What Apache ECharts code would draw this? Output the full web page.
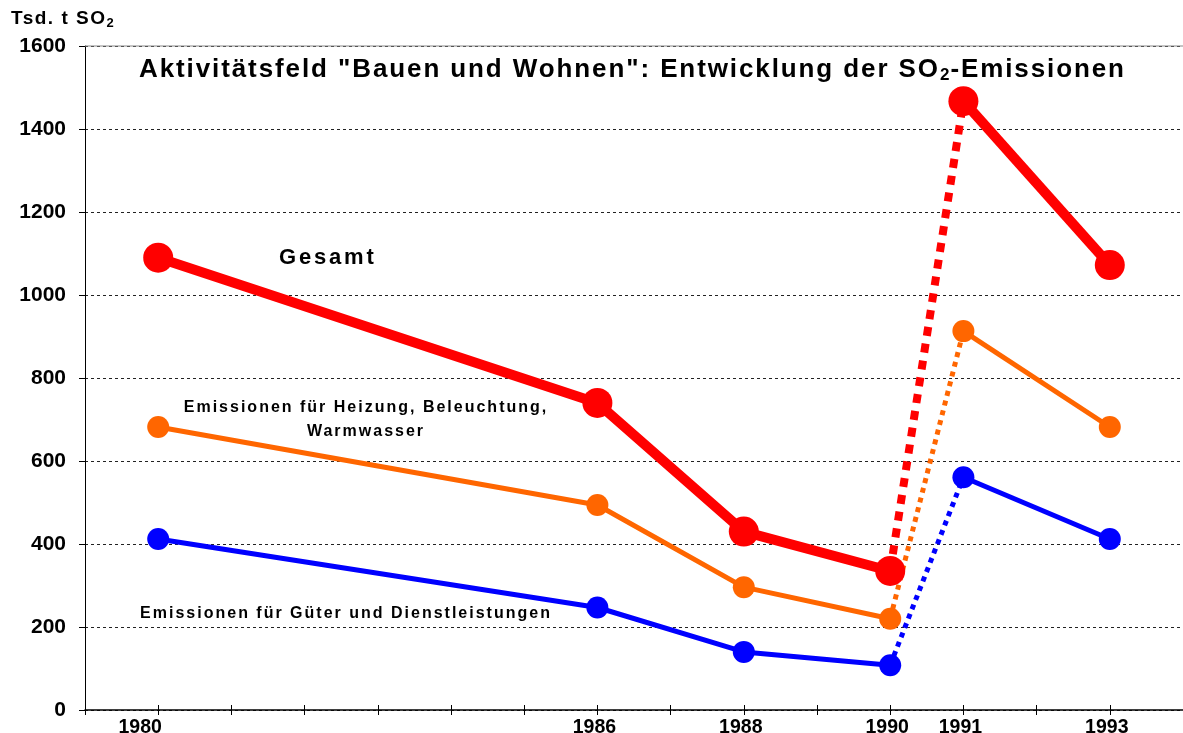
<!DOCTYPE html>
<html><head><meta charset="utf-8">
<script src="https://cdn.jsdelivr.net/npm/echarts@6/dist/echarts.min.js"></script>
<style>html,body{margin:0;padding:0;background:#fff;overflow:hidden}#c{width:1183px;height:733px}</style>
</head><body><div id="c"></div>
<script>
const years = [1980, 1986, 1988, 1990, 1991, 1993];
const labeledYears = [1980, 1986, 1988, 1990, 1991, 1993];
const gesamt = [1090, 740, 430, 335, 1467, 1072];
const heizung = [682, 494, 296, 220, 913, 682];
const gueter = [412, 247, 140, 108, 561, 412];
const yTicks = [0, 200, 400, 600, 800, 1000, 1200, 1400, 1600];

const FONT = '"Liberation Sans", Arial, sans-serif';
const RED = '#ff0000', ORANGE = '#ff6600', BLUE = '#0000ff';

// Reference text is rendered with extra tracking; emulate it per font size.
const TRACKING = {26: 1.9, 17: 1, 19: 1.5, 13: 0.8, 22: 2.8, 16: 2};
function trackFor(font) {
  const m = /(\d+(?:\.\d+)?)px/.exec(font || '');
  return m ? (TRACKING[+m[1]] || 0) : 0;
}
(function () {
  const P = CanvasRenderingContext2D.prototype;
  if (!('letterSpacing' in P)) return;
  const of = P.fillText, om = P.measureText;
  P.fillText = function (t, x, y, w) {
    this.letterSpacing = trackFor(this.font) + 'px';
    const r = w === undefined ? of.call(this, t, x, y) : of.call(this, t, x, y, w);
    this.letterSpacing = '0px';
    return r;
  };
  P.measureText = function (t) {
    this.letterSpacing = trackFor(this.font) + 'px';
    const r = om.call(this, t);
    this.letterSpacing = '0px';
    return r;
  };
})();

function pts(vals, from, to) {
  const out = [];
  for (let i = from; i <= to; i++) out.push([years[i], vals[i]]);
  return out;
}
function group(name, vals, color, w, sym, dash, z) {
  return [
    {name, type: 'line', data: pts(vals, 0, 3), symbol: 'circle', symbolSize: sym, z: z,
     lineStyle: {color, width: w}, itemStyle: {color}, silent: true, animation: false},
    {name, type: 'line', data: pts(vals, 4, 5), symbol: 'circle', symbolSize: sym, z: z,
     lineStyle: {color, width: w}, itemStyle: {color}, silent: true, animation: false},
    {name, type: 'line', data: pts(vals, 3, 4), symbol: 'none', z: z - 1,
     lineStyle: {color, width: dash.w, type: dash.pattern, cap: 'butt'}, silent: true, animation: false}
  ];
}

const chart = echarts.init(document.getElementById('c'));
chart.setOption({
  backgroundColor: '#fff',
  animation: false,
  title: {
    text: '{b|Aktivitätsfeld "Bauen und Wohnen": Entwicklung der SO}{s|2}{b|-Emissionen}',
    left: 134, top: 51,
    textStyle: {
      rich: {
        b: {fontFamily: FONT, fontWeight: 'bold', fontSize: 26, color: '#000'},
        s: {fontFamily: FONT, fontWeight: 'bold', fontSize: 17, color: '#000', padding: [10, 0, 0, 0]}
      }
    }
  },
  grid: {left: 85, right: 0, top: 46, bottom: 23, containLabel: false, outerBoundsMode: 'none'},
  xAxis: [{
    type: 'value', min: 1979, max: 1994, interval: 1,
    axisLine: {lineStyle: {color: '#000', width: 1.5}},
    axisTick: {show: true, inside: false, length: 5, lineStyle: {color: '#000'}},
    splitLine: {show: false},
    axisLabel: {
      fontFamily: FONT, fontWeight: 'bold', fontSize: 19.5, color: '#000', margin: 8,
      showMinLabel: true, showMaxLabel: false,
      formatter: v => !labeledYears.includes(v) ? '' : (v === 1980 ? '{a|' + v + '}' : '{n|' + v + '}'),
      rich: {
        a: {fontFamily: FONT, fontWeight: 'bold', fontSize: 19.5, color: '#000', padding: [0, 36, 0, 0]},
        n: {fontFamily: FONT, fontWeight: 'bold', fontSize: 19.5, color: '#000', padding: [0, 6, 0, 0]}
      }
    }
  }, {
    type: 'value', min: 1979, max: 1994, interval: 1, position: 'bottom',
    axisLine: {show: false},
    axisTick: {show: true, inside: true, length: 5, lineStyle: {color: '#000'}},
    axisLabel: {show: false}, splitLine: {show: false}
  }],
  yAxis: {
    type: 'value', min: 0, max: 1600, interval: 200,
    axisLine: {show: true, lineStyle: {color: '#000', width: 1}},
    axisTick: {show: true, length: 6, lineStyle: {color: '#000'}},
    axisLabel: {fontFamily: FONT, fontWeight: 'bold', fontSize: 21, color: '#000', margin: 19,
      formatter: v => yTicks.includes(v) ? String(v) : ''},
    splitLine: {show: true, lineStyle: {color: '#222', type: [3, 3], width: 1}}
  },
  graphic: [
    {type: 'text', left: 11, top: 9, style: {
      text: '{b|Tsd. t SO}{s|2}', rich: {
        b: {fontFamily: FONT, fontWeight: 'bold', fontSize: 19, fill: '#000'},
        s: {fontFamily: FONT, fontWeight: 'bold', fontSize: 13, fill: '#000', padding: [8, 0, 0, 0]}
      }}},
    {type: 'line', shape: {x1: 85, y1: 46, x2: 1183, y2: 46}, style: {stroke: '#888', lineWidth: 1}, z: 1},
    {type: 'text', left: 279, top: 246, style: {text: 'Gesamt', fontFamily: FONT, fontWeight: 'bold', fontSize: 22, fill: '#000'}},
    {type: 'text', x: 366, y: 396, style: {text: 'Emissionen für Heizung, Beleuchtung,\nWarmwasser', align: 'center',
      lineHeight: 24, fontFamily: FONT, fontWeight: 'bold', fontSize: 16, fill: '#000'}},
    {type: 'text', x: 346, y: 605, style: {text: 'Emissionen für Güter und Dienstleistungen', align: 'center',
      fontFamily: FONT, fontWeight: 'bold', fontSize: 16, fill: '#000'}}
  ],
  series: [].concat(
    group('Güter', gueter, BLUE, 5, 22, {w: 5, pattern: [5, 5]}, 3),
    group('Heizung', heizung, ORANGE, 5, 22, {w: 5, pattern: [5, 5]}, 5),
    group('Gesamt', gesamt, RED, 10, 30, {w: 8, pattern: [9, 8]}, 7)
  )
});
</script>
</body></html>
